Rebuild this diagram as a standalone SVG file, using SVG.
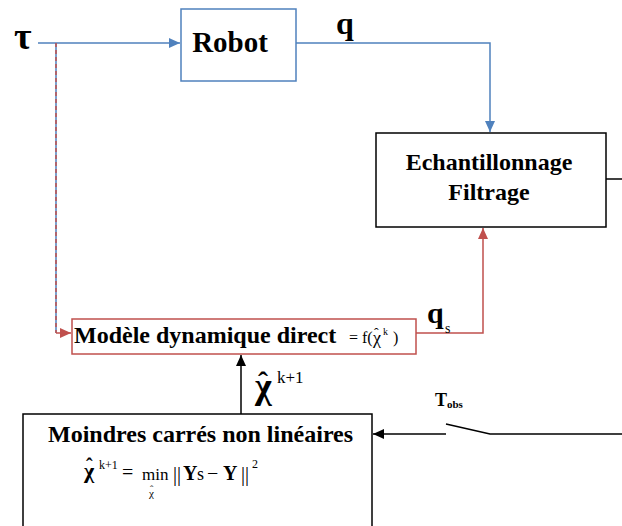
<svg xmlns="http://www.w3.org/2000/svg" width="622" height="526" viewBox="0 0 622 526">
<style>
.t{font-family:"Liberation Serif","Times New Roman",serif;fill:#000}
.b{font-weight:bold}
.blue{stroke:#4F81BD;stroke-width:1.5;fill:none}
.red{stroke:#C0504D;stroke-width:1.5;fill:none}
.blk{stroke:#000;stroke-width:1.5;fill:none}
</style>
<defs>
<marker id="ab" markerUnits="userSpaceOnUse" markerWidth="12" markerHeight="10" refX="11" refY="5" orient="auto"><path d="M0,0 L11,5 L0,10 Z" fill="#4F81BD"/></marker>
<marker id="ar" markerUnits="userSpaceOnUse" markerWidth="12" markerHeight="10" refX="11" refY="5" orient="auto"><path d="M0,0 L11,5 L0,10 Z" fill="#C0504D"/></marker>
<marker id="ak" markerUnits="userSpaceOnUse" markerWidth="12" markerHeight="10" refX="11" refY="5" orient="auto"><path d="M0,0 L11,5 L0,10 Z" fill="#000"/></marker>
</defs>
<rect width="622" height="526" fill="#fff"/>

<g id="connectors">
<path class="blue" d="M38,43 H180" marker-end="url(#ab)"/>
<path class="blue" d="M296,43 H490 V132" marker-end="url(#ab)"/>
<path class="blue" d="M56,43 V333"/>
<path class="red" d="M56,43 V333" stroke-dasharray="4 3"/>
<path class="red" d="M56,333 H71" marker-end="url(#ar)"/>
<path class="red" d="M416,333 H483 V228" marker-end="url(#ar)"/>
<path class="blk" d="M241,414 V355" marker-end="url(#ak)"/>
<path class="blk" d="M622,434 H490 L446,424"/>
<path class="blk" d="M446,434 H373" marker-end="url(#ak)"/>
<path class="blk" d="M606,179 H622"/>
</g>

<g id="robot">
<rect x="181" y="9" width="115" height="72" fill="#fff" stroke="#4F81BD" stroke-width="1.5"/>
<text class="t b" x="230" y="52" font-size="29" text-anchor="middle">Robot</text>
</g>

<g id="echantillonnage">
<rect x="376" y="133" width="230" height="94" fill="#fff" stroke="#000" stroke-width="1.5"/>
<text class="t b" x="489" y="170" font-size="24" text-anchor="middle">Echantillonnage</text>
<text class="t b" x="489" y="200" font-size="24" text-anchor="middle">Filtrage</text>
</g>

<g id="modele">
<rect x="72" y="319" width="344" height="35" fill="#fff" stroke="#C0504D" stroke-width="1.5"/>
<text class="t b" x="74" y="343" font-size="24">Modèle dynamique direct</text>
<text class="t" x="349" y="343" font-size="16">= f(</text>
<text class="t" x="373" y="344" font-size="18">χ</text>
<text class="t" x="374" y="338" font-size="14">ˆ</text>
<text class="t" x="383" y="335" font-size="10">k</text>
<text class="t" x="393" y="343" font-size="16">)</text>
</g>

<g id="moindres">
<rect x="23" y="414" width="349" height="130" fill="#fff" stroke="#000" stroke-width="1.5"/>
<text class="t b" x="48" y="442" font-size="24">Moindres carrés non linéaires</text>
<text class="t b" x="84" y="478" font-size="22">χ</text>
<text class="t b" x="86" y="473" font-size="20">ˆ</text>
<text class="t" x="99" y="469" font-size="12">k+1</text>
<text class="t" x="122" y="479" font-size="20">=</text>
<text class="t" x="142" y="480" font-size="17">min</text>
<text class="t" x="149" y="497" font-size="11">χ</text>
<text class="t" x="150" y="493" font-size="10">ˆ</text>
<text class="t" x="173" y="481" font-size="20">|</text>
<text class="t" x="177" y="481" font-size="20">|</text>
<text class="t b" x="183" y="480" font-size="20">Y</text>
<text class="t" x="197" y="480" font-size="18">s</text>
<text class="t" x="207" y="480" font-size="20">−</text>
<text class="t b" x="223" y="480" font-size="20">Y</text>
<text class="t" x="241" y="481" font-size="20">|</text>
<text class="t" x="245" y="481" font-size="20">|</text>
<text class="t" x="252" y="468" font-size="12">2</text>
</g>

<g id="labels">
<text class="t b" x="14" y="49" font-size="38">τ</text>
<text class="t b" x="336" y="34" font-size="32">q</text>
<text class="t b" x="427" y="323" font-size="30">q</text>
<text class="t" x="445" y="333" font-size="14">s</text>
<text class="t b" x="255" y="398" font-size="36">χ</text>
<text class="t b" x="258" y="392" font-size="30">ˆ</text>
<text class="t" x="277" y="383" font-size="17">k+1</text>
<text class="t b" x="435" y="406" font-size="18">T</text>
<text class="t b" x="447" y="408" font-size="11">obs</text>
</g>
</svg>
